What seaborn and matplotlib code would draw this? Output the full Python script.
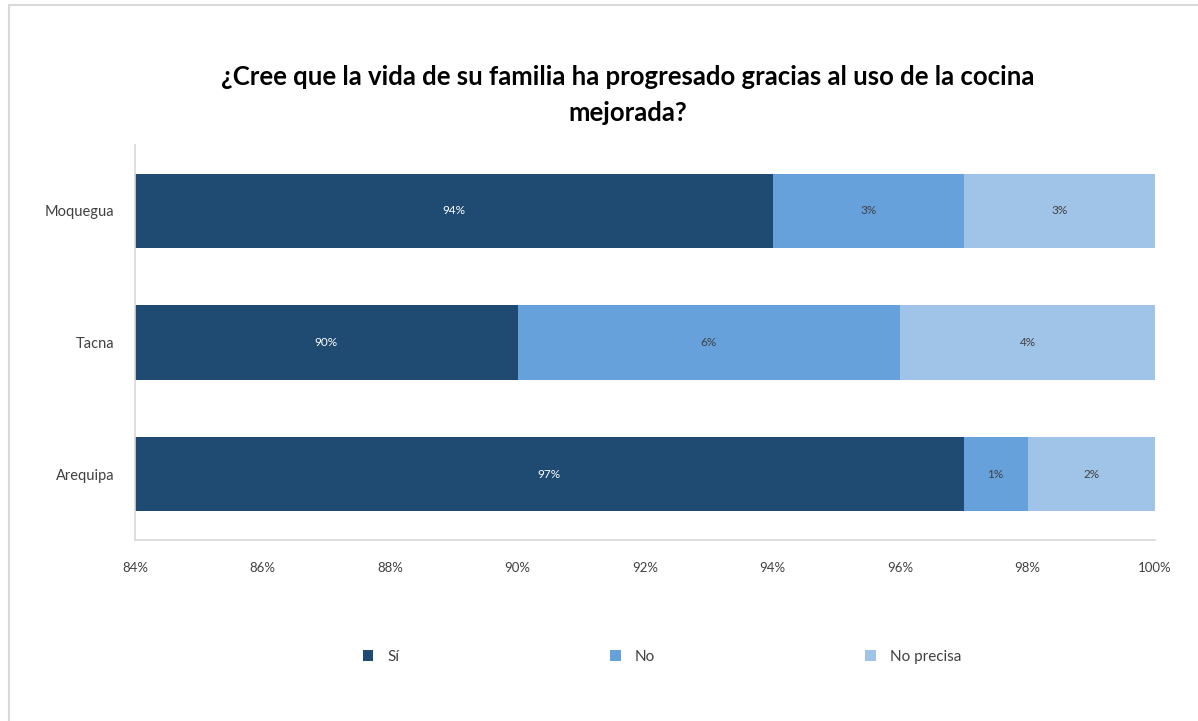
import matplotlib
matplotlib.use("Agg")
import matplotlib.pyplot as plt
from matplotlib.lines import Line2D
from matplotlib.patches import Patch
import numpy as np
import pandas as pd
import seaborn as sns

regions = ["Moquegua", "Tacna", "Arequipa"]
si = [94, 90, 97]
no = [3, 6, 1]
no_precisa = [3, 4, 2]
series_names = ["Sí", "No", "No precisa"]
colors = ["#1F4A72", "#67A1DC", "#A0C3E8"]
xticks = [84, 86, 88, 90, 92, 94, 96, 98, 100]
title = "¿Cree que la vida de su familia ha progresado gracias al uso de la cocina\nmejorada?"

sns.set_theme(style="white")
plt.rcParams["font.family"] = ["Lato", "DejaVu Sans"]

fig = plt.figure(figsize=(11.98, 7.21), dpi=100)
ax = fig.add_axes([135 / 1198, 1 - 540 / 721, 1020 / 1198, 395 / 721])

df = pd.DataFrame({"region": regions, "si": si, "no": no, "np": no_precisa})
df["c1"] = df["si"]
df["c2"] = df["si"] + df["no"]
df["c3"] = df["si"] + df["no"] + df["np"]

# stacked bars: draw cumulative totals from the back to the front
for col, color in zip(["c3", "c2", "c1"], colors[::-1]):
    sns.barplot(data=df, x=col, y="region", order=regions, orient="h",
                color=color, width=0.566, saturation=1, ax=ax, linewidth=0)

xmin, xmax = 84, 100
ax.set_xlim(xmin, xmax)
ax.set_ylim(2.5, -0.5)

# segment labels, centred in the visible part of each segment
for i in range(len(regions)):
    starts = [0, si[i], si[i] + no[i]]
    vals = [si[i], no[i], no_precisa[i]]
    for j, (s, v) in enumerate(zip(starts, vals)):
        lo = max(s, xmin)
        hi = min(s + v, xmax)
        ax.text((lo + hi) / 2, i, f"{v}%", ha="center", va="center",
                fontsize=8.5, color="white" if j == 0 else "#404040")

ax.set_xticks(xticks)
ax.set_xticklabels([f"{t}%" for t in xticks], fontsize=9.5, color="#404040")
ax.tick_params(axis="y", labelsize=10.5, labelcolor="#404040", length=0, pad=15)
ax.tick_params(axis="x", length=0, pad=16)
ax.set_xlabel("")
ax.set_ylabel("")
for side in ["top", "right"]:
    ax.spines[side].set_visible(False)
for side in ["left", "bottom"]:
    ax.spines[side].set_color("#D9D9D9")
    ax.spines[side].set_linewidth(1.2)

fig.text(628 / 1198, 1 - 95 / 721, title, ha="center", va="center", fontsize=18.5,
         fontweight="bold", color="#000000", linespacing=1.6)

handles = [Patch(facecolor=c, edgecolor="none") for c in colors]
fig.legend(handles, series_names, loc="center", bbox_to_anchor=(662 / 1198, 1 - 657 / 721),
           ncol=3, frameon=False, fontsize=11, handlelength=0.7, handleheight=0.7,
           columnspacing=13.8, handletextpad=0.9, labelcolor="#404040")

# chart frame edges
fig.add_artist(Line2D([9 / 1198, 9 / 1198], [0, 1 - 5 / 721], transform=fig.transFigure,
                      color="#D9D9D9", linewidth=1.5))
fig.add_artist(Line2D([9 / 1198, 1], [1 - 5 / 721, 1 - 5 / 721], transform=fig.transFigure,
                      color="#D9D9D9", linewidth=1.5))

fig.savefig("out.png", dpi=100, facecolor="white")
